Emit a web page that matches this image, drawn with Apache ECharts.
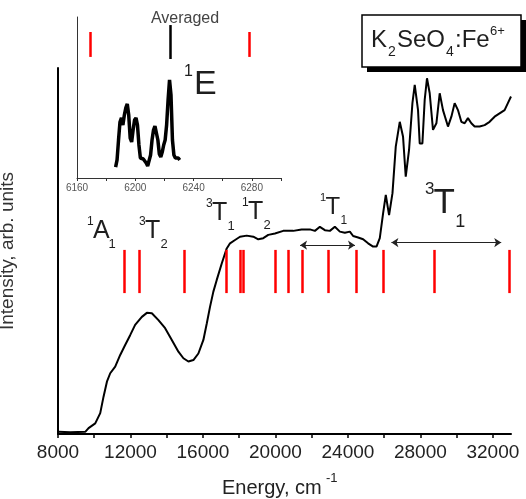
<!DOCTYPE html>
<html>
<head>
<meta charset="UTF-8">
<title>K2SeO4:Fe6+ absorption spectrum</title>
<script src="https://cdn.jsdelivr.net/npm/echarts@6.0.0/dist/echarts.min.js"></script>
<style>
  body { margin: 0; background: #fff; }
  #chart { width: 526px; height: 499px; }
</style>
</head>
<body>
<div id="chart"></div>
<script>
// main spectrum, cm-1 vs arb. units
const mainEnergy = [8033, 8678, 9504, 9686, 10055, 10331, 10513, 10700, 10882, 11157, 11433, 11706, 11982, 12257, 12628, 12904, 13179, 13543, 13912, 14281, 14645, 14921, 15196, 15472, 15747, 16023, 16210, 16392, 16574, 16761, 17036, 17312, 17494, 17770, 18045, 18414, 18778, 19053, 19329, 19604, 19973, 20431, 20982, 21444, 21902, 22177, 22453, 22728, 23004, 23279, 23555, 23830, 24106, 24288, 24563, 24839, 25114, 25390, 25577, 25759, 25941, 26090, 26271, 26459, 26640, 26861, 27043, 27191, 27373, 27560, 27687, 27869, 27962, 28111, 28237, 28364, 28513, 28695, 28883, 29065, 29247, 29522, 29709, 29891, 30073, 30260, 30442, 30624, 30811, 30993, 31268, 31544, 31819, 32095, 32370, 32646, 32828, 33000];
const mainIntensity = [0.6, 0.5, 0.6, 1.6, 2.9, 5.7, 10.2, 14.3, 16.6, 18.4, 21.6, 24.3, 27.0, 29.8, 32.0, 33.1, 33.0, 31.1, 28.9, 25.7, 22.5, 20.7, 19.8, 20.2, 22.0, 25.7, 30.2, 34.8, 38.9, 42.1, 46.6, 50.7, 52.1, 53.0, 53.9, 54.2, 53.9, 53.2, 53.5, 54.4, 54.8, 55.5, 55.5, 55.9, 55.9, 55.5, 56.6, 55.7, 55.5, 56.6, 55.3, 55.0, 55.3, 54.1, 53.7, 53.2, 52.1, 51.2, 51.2, 53.5, 60.3, 65.3, 59.8, 65.8, 78.5, 85.3, 81.2, 70.3, 77.6, 90.4, 95.4, 88.5, 79.4, 79.4, 91.3, 97.2, 93.1, 83.1, 84.9, 93.1, 88.5, 84.0, 86.7, 90.4, 88.5, 85.3, 84.9, 86.3, 84.9, 84.0, 84.0, 84.4, 85.3, 86.7, 87.6, 88.5, 90.4, 92.2];

// calculated transitions (red sticks)
const redSticks = [11650, 12480, 14960, 17310, 18080, 18250, 19970, 20730, 21480, 22910, 24470, 25940, 28750, 32880];
const stickRange = [38.5, 50.3];
const t1Arrow = [21360, 24390, 51.6];
const t1BigArrow = [26400, 32460, 52.3];

const mainTicks = [8000, 10000, 12000, 14000, 16000, 18000, 20000, 22000, 24000, 26000, 28000, 30000, 32000];
const mainLabels = [8000, 12000, 16000, 20000, 24000, 28000, 32000];

// inset: 1E region, averaged
const insetEnergy = [6186.5, 6187.5, 6188.5, 6189.5, 6190.5, 6191.5, 6192.5, 6193.5, 6194.5, 6195.5, 6196.5, 6197.5, 6198.5, 6199.5, 6200.5, 6201.5, 6202.5, 6203.5, 6204.5, 6205.5, 6206.5, 6207.5, 6208.5, 6209.5, 6210.5, 6211.5, 6212.5, 6213.5, 6214.5, 6215.5, 6216.5, 6217.5, 6218.5, 6219.5, 6220.5, 6221.5, 6222.5, 6223.5, 6224.5, 6225.5, 6226.5, 6227.5, 6228.5, 6229.5, 6230.5];
const insetIntensity = [6.8, 11.2, 23.6, 34.8, 37.3, 32.9, 39.1, 43.5, 46.0, 39.1, 24.8, 22.4, 29.8, 36.0, 37.3, 32.9, 20.5, 12.4, 11.2, 11.8, 10.6, 9.3, 7.5, 8.1, 14.3, 23.6, 29.8, 32.3, 31.1, 23.6, 14.9, 13.0, 16.1, 20.5, 23.6, 32.9, 48.4, 60.9, 51.6, 23.6, 14.3, 12.4, 13.0, 12.4, 11.2];
const insetRedSticks = [6169, 6278];
const insetRedRange = [75.2, 90.7];
const insetBlackSticks = [6224];
const insetBlackRange = [73.9, 95];

const insetTicks = [6160, 6180, 6200, 6220, 6240, 6260, 6280, 6300];
const insetLabels = [6160, 6200, 6240, 6280];

const FONT = 'Liberation Sans, Arial, sans-serif';
const INK = '#1e1e1e';

const chart = echarts.init(document.getElementById('chart'));

function sticks(list, range) {
    return list.map(e => [{ coord: [e, range[0]] }, { coord: [e, range[1]] }]);
}

function txt(x, y, s, size, color) {
    return {
        type: 'text', x: x, y: y, silent: true,
        style: {
            text: s, fontSize: size, fontFamily: FONT,
            fill: color || INK, align: 'left', verticalAlign: 'middle'
        }
    };
}

// term symbol: superscript, letter, subscript
function term(x, y, sup, main, sub, big, small) {
    return [
        txt(x, y - big * 0.38, sup, small),
        txt(x + small * 0.5, y, main, big),
        txt(x + small * 0.5 + big * 0.62, y + big * 0.55, sub, small + 1)
    ];
}

const graphics = [].concat(
    term(87, 231, '1', 'A', '1', 25, 12),
    term(139, 231, '3', 'T', '2', 25, 12),
    term(206, 213, '3', 'T', '1', 25, 12),
    term(242, 212, '1', 'T', '2', 25, 12),
    term(320, 207, '1', 'T', '1', 24, 11),
    term(425, 203, '3', 'T', '1', 35, 17),
    [
        txt(184, 72, '1', 16),
        txt(194, 85, 'E', 34),
        {
            type: 'text', x: 185, y: 19, silent: true,
            style: { text: 'Averaged', fontSize: 16, fontFamily: FONT, fill: '#444', align: 'center', verticalAlign: 'middle' }
        },
        // formula box with shadow
        { type: 'rect', shape: { x: 367, y: 20, width: 159, height: 52 }, style: { fill: '#000' }, silent: true },
        { type: 'rect', shape: { x: 362, y: 15, width: 159, height: 52 }, style: { fill: '#fff', stroke: '#000', lineWidth: 1.5 }, silent: true },
        txt(371, 40, 'K', 24),
        txt(388, 52, '2', 14),
        txt(397, 40, 'SeO', 24),
        txt(446, 52, '4', 14),
        txt(455, 40, ':Fe', 24),
        txt(490, 31, '6+', 13),
        // x axis name
        txt(222, 488, 'Energy, cm', 20, '#222'),
        txt(326, 478, '-1', 13, '#222')
    ]
);

const plain = v => String(v);

chart.setOption({
    animation: false,
    backgroundColor: '#fff',
    grid: [
        { left: 58, top: 68, right: 15, bottom: 65, containLabel: false, outerBoundsMode: 'none' },
        { left: 77, top: 17, width: 204, height: 161, containLabel: false, outerBoundsMode: 'none' }
    ],
    xAxis: [
        {
            type: 'value', gridIndex: 0, min: 8000, max: 33000,
            axisLine: { lineStyle: { color: '#000', width: 2 } },
            axisTick: { customValues: mainTicks, length: 4, lineStyle: { color: '#000', width: 1.5 } },
            axisLabel: { customValues: mainLabels, formatter: plain, fontSize: 19, fontFamily: FONT, color: '#222', margin: 9 },
            splitLine: { show: false }
        },
        {
            type: 'value', gridIndex: 1, min: 6160, max: 6300,
            axisLine: { lineStyle: { color: '#333', width: 1 } },
            axisTick: { customValues: insetTicks, length: 3, lineStyle: { color: '#333' } },
            axisLabel: { customValues: insetLabels, formatter: plain, fontSize: 10, fontFamily: FONT, color: '#555', margin: 5 },
            splitLine: { show: false }
        }
    ],
    yAxis: [
        {
            type: 'value', gridIndex: 0, min: 0, max: 100,
            name: 'Intensity, arb. units', nameLocation: 'middle', nameGap: 41,
            nameTextStyle: { fontSize: 19, fontFamily: FONT, color: '#333' },
            axisLine: { show: true, lineStyle: { color: '#000', width: 2 } },
            axisTick: { show: false }, axisLabel: { show: false }, splitLine: { show: false }
        },
        {
            type: 'value', gridIndex: 1, min: 0, max: 100,
            axisLine: { show: true, lineStyle: { color: '#333', width: 1 } },
            axisTick: { show: false }, axisLabel: { show: false }, splitLine: { show: false }
        }
    ],
    series: [
        {
            type: 'line', xAxisIndex: 0, yAxisIndex: 0,
            data: mainEnergy.map((e, i) => [e, mainIntensity[i]]),
            showSymbol: false, lineStyle: { color: '#000', width: 2 },
            markLine: {
                silent: true, symbol: ['none', 'none'], label: { show: false },
                lineStyle: { color: '#ff0000', width: 2.5, type: 'solid' },
                data: sticks(redSticks, stickRange)
            }
        },
        {
            type: 'line', xAxisIndex: 0, yAxisIndex: 0, data: [],
            markLine: {
                silent: true, symbol: ['arrow', 'arrow'], symbolSize: 7, label: { show: false },
                lineStyle: { color: '#222', width: 1, type: 'solid' },
                data: [
                    [{ coord: [t1Arrow[0], t1Arrow[2]] }, { coord: [t1Arrow[1], t1Arrow[2]] }],
                    [{ coord: [t1BigArrow[0], t1BigArrow[2]] }, { coord: [t1BigArrow[1], t1BigArrow[2]] }]
                ]
            }
        },
        {
            type: 'line', xAxisIndex: 1, yAxisIndex: 1,
            data: insetEnergy.map((e, i) => [e, insetIntensity[i]]),
            showSymbol: false, lineStyle: { color: '#000', width: 3.5 },
            markLine: {
                silent: true, symbol: ['none', 'none'], label: { show: false },
                lineStyle: { color: '#ff0000', width: 2.5, type: 'solid' },
                data: sticks(insetRedSticks, insetRedRange)
            }
        },
        {
            type: 'line', xAxisIndex: 1, yAxisIndex: 1, data: [],
            markLine: {
                silent: true, symbol: ['none', 'none'], label: { show: false },
                lineStyle: { color: '#000', width: 2.5, type: 'solid' },
                data: sticks(insetBlackSticks, insetBlackRange)
            }
        }
    ],
    graphic: graphics
});
</script>
</body>
</html>
